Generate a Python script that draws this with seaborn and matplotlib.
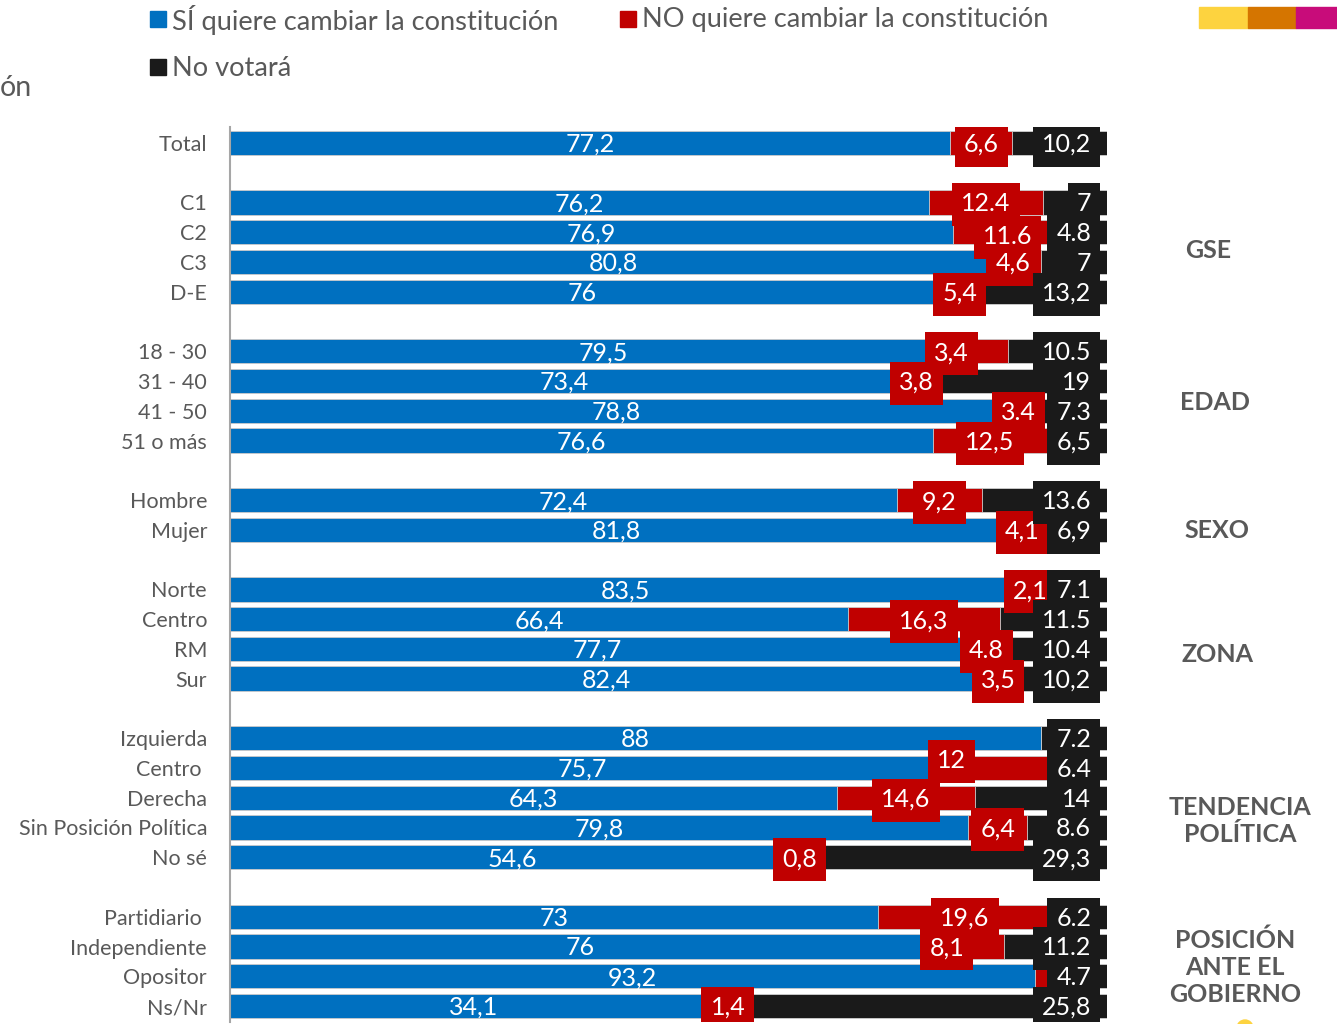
import numpy as np
import pandas as pd
import matplotlib.pyplot as plt
from matplotlib.patches import Rectangle, Ellipse
import seaborn as sns

sns.set_theme(style="white")
plt.rcParams['font.family'] = ['Lato', 'DejaVu Sans']

# Datos
grupos = [
    ["Total"],
    ["C1", "C2", "C3", "D-E"],
    ["18 - 30", "31 - 40", "41 - 50", "51 o más"],
    ["Hombre", "Mujer"],
    ["Norte", "Centro", "RM", "Sur"],
    ["Izquierda", "Centro ", "Derecha", "Sin Posición Política", "No sé"],
    ["Partidiario ", "Independiente", "Opositor", "Ns/Nr"],
]
nombres_grupo = ["GSE", "EDAD", "SEXO", "ZONA", "TENDENCIA\nPOLÍTICA",
                 "POSICIÓN\nANTE EL\nGOBIERNO"]

si = [77.2, 76.2, 76.9, 80.8, 76, 79.5, 73.4, 78.8, 76.6, 72.4, 81.8,
      83.5, 66.4, 77.7, 82.4, 88, 75.7, 64.3, 79.8, 54.6, 73, 76, 93.2, 34.1]
no = [6.6, 12.4, 11.6, 4.6, 5.4, 3.4, 3.8, 3.4, 12.5, 9.2, 4.1,
      2.1, 16.3, 4.8, 3.5, 0, 12, 14.6, 6.4, 0.8, 19.6, 8.1, 3.6, 1.4]
nv = [10.2, 7, 4.8, 7, 13.2, 10.5, 19, 7.3, 6.5, 13.6, 6.9,
      7.1, 11.5, 10.4, 10.2, 7.2, 6.4, 14, 8.6, 29.3, 6.2, 11.2, 4.7, 25.8]

lbl_si = ["77,2", "76,2", "76,9", "80,8", "76", "79,5", "73,4", "78,8", "76,6", "72,4", "81,8",
          "83,5", "66,4", "77,7", "82,4", "88", "75,7", "64,3", "79,8", "54,6", "73", "76", "93,2", "34,1"]
lbl_no = ["6,6", "12.4", "11.6", "4,6", "5,4", "3,4", "3,8", "3.4", "12,5", "9,2", "4,1",
          "2,1", "16,3", "4.8", "3,5", "", "12", "14,6", "6,4", "0,8", "19,6", "8,1", "", "1,4"]
lbl_nv = ["10,2", "7", "4.8", "7", "13,2", "10.5", "19", "7.3", "6,5", "13.6", "6,9",
          "7.1", "11.5", "10.4", "10,2", "7.2", "6.4", "14", "8.6", "29,3", "6.2", "11.2", "4.7", "25,8"]

AZUL, ROJO, NEGRO = "#0070C0", "#C00000", "#1A1A1A"
GRIS = "#595959"
W, H = 1337, 1024

# etiquetas rojas movidas a mano (px)
desp_rojo = {2: (0, 3), 3: (-6, 0), 5: (-41, 0), 16: (-40, -9), 21: (-20, 0)}

# posiciones con un hueco entre grupos
cats, pos = [], []
p = 0
for g in grupos:
    for c in g:
        cats.append(c)
        pos.append(p)
        p += 1
    p += 1

df = pd.DataFrame({"cat": cats, "pos": pos, "si": si, "no": no, "nv": nv})
tot = df["si"] + df["no"] + df["nv"]
df["si_p"] = df["si"] / tot * 100
df["no_p"] = df["no"] / tot * 100
df["cum2"] = df["si_p"] + df["no_p"]
df["cum3"] = 100.0

fig = plt.figure(figsize=(W / 100, H / 100), dpi=100)
ax = fig.add_axes([230 / W, 1 - 1022.4 / H, 877 / W, (1022.4 - 126.6) / H])

kw = dict(orient="h", native_scale=True, width=0.82, errorbar=None, ax=ax,
          edgecolor="#d0d0d0", linewidth=0.6, saturation=1)
sns.barplot(data=df, x="cum3", y="pos", color=NEGRO, **kw)
sns.barplot(data=df, x="cum2", y="pos", color=ROJO, **kw)
sns.barplot(data=df, x="si_p", y="pos", color=AZUL, **kw)

ax.set_xlim(0, 100)
ax.set_ylim(pos[-1] + 0.55, -0.55)
ax.set_xticks([])
ax.set_yticks(pos)
ax.set_yticklabels(cats, fontsize=15.5, color=GRIS)
ax.tick_params(axis="y", length=0, pad=16.5)
ax.set_xlabel("")
ax.set_ylabel("")
for s in ["top", "right", "bottom"]:
    ax.spines[s].set_visible(False)
ax.spines["left"].set_color("#A6A6A6")
ax.spines["left"].set_linewidth(1.5)

fs = 18
to_data = ax.transData
cajas = []
for i, r in df.iterrows():
    y = r["pos"] + 0.05
    ax.text(r["si_p"] / 2, y, lbl_si[i], ha="center", va="center",
            color="white", fontsize=fs, zorder=5)
    if lbl_no[i]:
        dx, dy = desp_rojo.get(i, (0, 0))
        px, py = to_data.transform((r["si_p"] + r["no_p"] / 2, y))
        xd, yd = to_data.inverted().transform((px + dx, py - dy))
        t = ax.text(xd, yd, lbl_no[i], ha="center", va="center",
                    color="white", fontsize=fs, zorder=7)
        cajas.append((t, ROJO, 6))
    t = ax.text(98.2, y, lbl_nv[i], ha="right", va="center", color="white",
                fontsize=fs, zorder=9)
    cajas.append((t, NEGRO, 8))

# cajas de fondo de las etiquetas, en pixeles
fig.canvas.draw()
inv = ax.transData.inverted()
for t, col, z in cajas:
    bb = t.get_window_extent()
    cx = (bb.x0 + bb.x1) / 2
    cy = (bb.y0 + bb.y1) / 2 - 1
    w = bb.width + 18
    (x0, y0), (x1, y1) = inv.transform([(cx - w / 2, cy - 21.5), (cx + w / 2, cy + 21.5)])
    ax.add_patch(Rectangle((x0, y0), x1 - x0, y1 - y0, color=col, lw=0, zorder=z))

# etiquetas de grupo a la derecha
xg = [1208, 1215, 1217, 1218, 1240, 1235]
yg = [250, 403, 531, 655, 821, 967]
for nombre, x, y in zip(nombres_grupo, xg, yg):
    fig.text(x / W, 1 - y / H, nombre, ha="center", va="center",
             fontsize=18, fontweight="bold", color=GRIS, linespacing=1.22)

# leyenda
ley = [(150, 19, AZUL, "SÍ quiere cambiar la constitución"),
       (620, 19, ROJO, "NO quiere cambiar la constitución"),
       (150, 67, NEGRO, "No votará")]
for x, y, col, txt in ley:
    fig.add_artist(Rectangle((x / W, 1 - (y + 8) / H), 16 / W, 16 / H,
                             transform=fig.transFigure, color=col))
    fig.text((x + 22) / W, 1 - (y + 1) / H, txt, ha="left", va="center",
             fontsize=19.6, color=GRIS)

fig.text(0, 1 - 88 / H, "ón", ha="left", va="center", fontsize=20.5, color=GRIS)

# franjas de color arriba a la derecha
for x0, x1, col in [(1199, 1248, "#FDD33F"), (1248, 1296, "#D57500"), (1296, 1337, "#C80C7A")]:
    fig.add_artist(Rectangle((x0 / W, 1 - 28 / H), (x1 - x0) / W, 21 / H,
                             transform=fig.transFigure, color=col))
fig.add_artist(Ellipse((1245 / W, 1 - 1028 / H), 16 / W, 16 / H,
                       transform=fig.transFigure, color="#FDD33F"))

fig.savefig("out.png", dpi=100, facecolor="white")
